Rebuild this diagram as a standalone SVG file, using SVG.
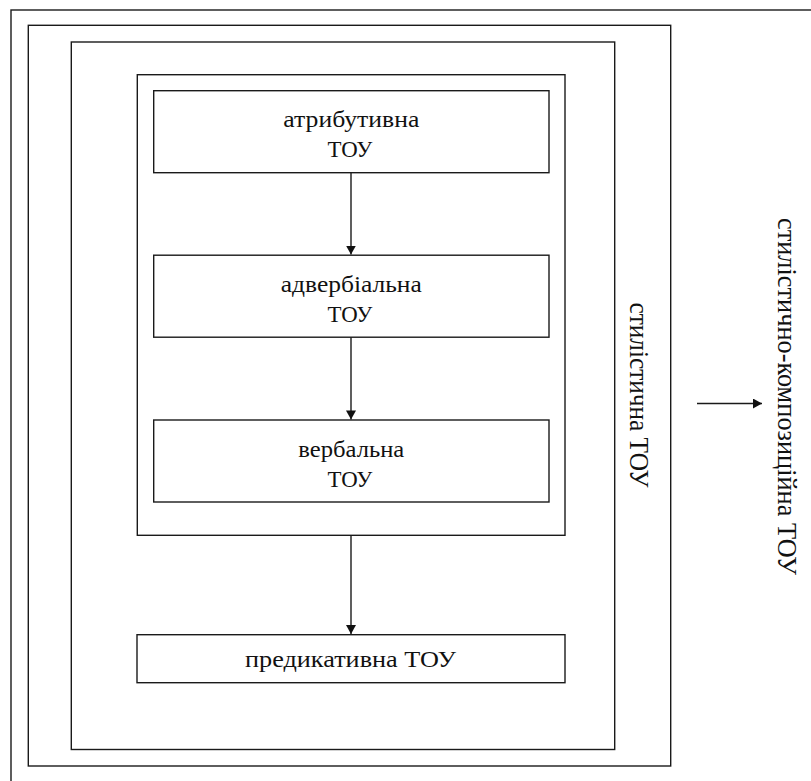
<svg xmlns="http://www.w3.org/2000/svg" width="811" height="781" viewBox="0 0 811 781">
  <style>
    .frame { fill: none; stroke: #1a1a1a; stroke-width: 1.4; }
    .box { fill: #ffffff; stroke: #1a1a1a; stroke-width: 1.4; }
    .lbl { font-family: 'Liberation Serif', 'DejaVu Serif', serif; font-size: 23px; fill: #111; text-anchor: middle; }
    .vlbl { font-family: 'Liberation Serif', 'DejaVu Serif', serif; font-size: 27px; fill: #111; text-anchor: middle; }
    .edge { fill: none; stroke: #1a1a1a; stroke-width: 1.4; }
  </style>
  <defs>
    <marker id="arrow" markerWidth="10" markerHeight="10" refX="9" refY="5" orient="auto" markerUnits="userSpaceOnUse">
      <path d="M0,0 L9,5 L0,10 Z" fill="#111"/>
    </marker>
  </defs>

  <rect width="811" height="781" fill="#ffffff"/>

  <!-- outermost frame: stylistic-compositional level (runs off the page right and bottom) -->
  <g id="frame-composition">
    <rect class="frame" x="11" y="10" width="820" height="800"/>
    <text class="vlbl" transform="translate(778,396.5) rotate(90)" textLength="357" lengthAdjust="spacingAndGlyphs">стилістично-композиційна ТОУ</text>
  </g>

  <!-- stylistic level -->
  <g id="frame-stylistic">
    <rect class="frame" x="28.3" y="25.3" width="642.4" height="740.7"/>
    <text class="vlbl" transform="translate(630,395) rotate(90)" textLength="185" lengthAdjust="spacingAndGlyphs">стилістична ТОУ</text>
  </g>

  <!-- predicative level -->
  <g id="frame-predicative">
    <rect class="frame" x="71.3" y="42" width="543.4" height="707.5"/>
  </g>

  <!-- word-group level holding the three inner blocks -->
  <g id="frame-inner">
    <rect class="frame" x="137.3" y="74.7" width="427.7" height="460.6"/>
  </g>

  <g id="node-attributive">
    <rect class="box" x="153.7" y="90.7" width="395.3" height="82"/>
    <text class="lbl" x="351.3" y="127.3" textLength="136" lengthAdjust="spacingAndGlyphs">атрибутивна</text>
    <text class="lbl" x="350" y="157.3" textLength="45" lengthAdjust="spacingAndGlyphs">ТОУ</text>
  </g>

  <g id="node-adverbial">
    <rect class="box" x="153.7" y="255.2" width="395.3" height="82"/>
    <text class="lbl" x="351.3" y="291.8" textLength="141" lengthAdjust="spacingAndGlyphs">адвербіальна</text>
    <text class="lbl" x="350" y="321.8" textLength="45" lengthAdjust="spacingAndGlyphs">ТОУ</text>
  </g>

  <g id="node-verbal">
    <rect class="box" x="153.7" y="420" width="395.3" height="82"/>
    <text class="lbl" x="351.3" y="456.6" textLength="106" lengthAdjust="spacingAndGlyphs">вербальна</text>
    <text class="lbl" x="350" y="486.6" textLength="45" lengthAdjust="spacingAndGlyphs">ТОУ</text>
  </g>

  <g id="node-predicative">
    <rect class="box" x="137" y="634.7" width="428" height="48"/>
    <text class="lbl" x="350.5" y="666.5" textLength="211" lengthAdjust="spacingAndGlyphs">предикативна ТОУ</text>
  </g>

  <g id="connectors">
    <line class="edge" x1="351" y1="172.7" x2="351" y2="254.6" marker-end="url(#arrow)"/>
    <line class="edge" x1="351" y1="337.2" x2="351" y2="419.4" marker-end="url(#arrow)"/>
    <line class="edge" x1="351" y1="535.3" x2="351" y2="634.1" marker-end="url(#arrow)"/>
    <line class="edge" x1="697" y1="403.5" x2="762" y2="403.5" marker-end="url(#arrow)"/>
  </g>
</svg>
